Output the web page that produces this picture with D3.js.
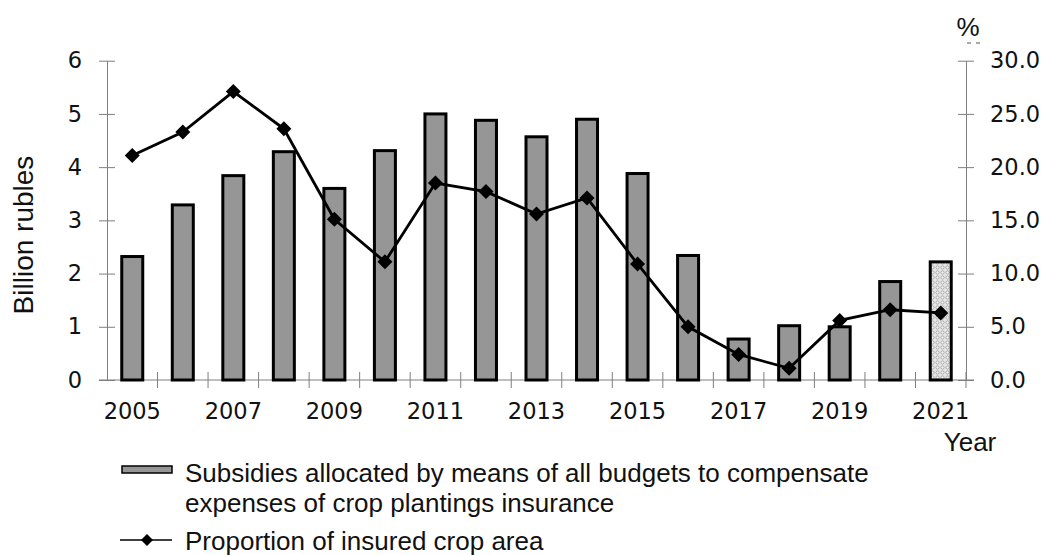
<!DOCTYPE html>
<html>
<head>
<meta charset="utf-8">
<script src="https://cdn.jsdelivr.net/npm/d3@7"></script>
<style>
  body { margin: 0; background: #fff; }
  svg text { font-family: "Liberation Sans", Arial, sans-serif; fill: #111; }
  svg .num { font-family: "DejaVu Sans", sans-serif; }
</style>
</head>
<body>
<div id="chart"></div>
<script>
const years = ["2005","2006","2007","2008","2009","2010","2011","2012","2013","2014","2015","2016","2017","2018","2019","2020","2021"];
const subsidies = [2.32, 3.29, 3.84, 4.29, 3.60, 4.31, 5.00, 4.88, 4.57, 4.90, 3.88, 2.34, 0.77, 1.02, 1.00, 1.85, 2.22];
const insuredShare = [21.1, 23.3, 27.1, 23.6, 15.1, 11.1, 18.5, 17.7, 15.6, 17.1, 10.9, 5.0, 2.4, 1.1, 5.6, 6.6, 6.3];
const leftTicks = [0, 1, 2, 3, 4, 5, 6];
const rightTicks = [0, 5, 10, 15, 20, 25, 30];
const labelledYears = ["2005","2007","2009","2011","2013","2015","2017","2019","2021"];
const legendLabels = [
    ["Subsidies allocated by means of all budgets to compensate", "expenses of crop plantings insurance"],
    ["Proportion of insured crop area"]
];

const width = 1047;
const height = 555;
const margin = { top: 60.7, right: 81, bottom: 175, left: 107 };
const axisColor = "#7f7f7f";
const barFill = "#969696";

const svg = d3.select("#chart").append("svg")
    .attr("width", width)
    .attr("height", height);

const defs = svg.append("defs");
const pat = defs.append("pattern")
    .attr("id", "dots")
    .attr("patternUnits", "userSpaceOnUse")
    .attr("width", 5)
    .attr("height", 5);
pat.append("rect").attr("width", 5).attr("height", 5).attr("fill", "#e6e6e6");
pat.append("circle").attr("cx", 2.5).attr("cy", 2.5).attr("r", 1.6)
    .attr("fill", "#f4f4f4").attr("stroke", "#9a9a9a").attr("stroke-width", 0.8);

const x = d3.scaleBand()
    .domain(years)
    .range([margin.left, width - margin.right]);

const yLeft = d3.scaleLinear()
    .domain([0, 6])
    .range([height - margin.bottom, margin.top]);

const yRight = d3.scaleLinear()
    .domain([0, 30])
    .range([height - margin.bottom, margin.top]);

const y0 = yLeft(0);

// axes
const left = svg.append("g")
    .attr("transform", `translate(${margin.left},0)`)
    .call(d3.axisLeft(yLeft).tickValues(leftTicks).tickSize(0).tickPadding(25).tickFormat(d3.format("d")));
left.select(".domain").attr("stroke", axisColor);
left.selectAll(".tick line").attr("x1", -8).attr("x2", 8).attr("stroke", axisColor);
left.selectAll("text").attr("class", "num").style("font-size", "22.5px").attr("fill", "#111");

const right = svg.append("g")
    .attr("transform", `translate(${width - margin.right},0)`)
    .call(d3.axisRight(yRight).tickValues(rightTicks).tickSize(0).tickPadding(24).tickFormat(d3.format(".1f")));
right.select(".domain").attr("stroke", axisColor);
right.selectAll(".tick line").attr("x1", -8).attr("x2", 8).attr("stroke", axisColor);
right.selectAll("text").attr("class", "num").style("font-size", "22.5px").attr("fill", "#111");

// x axis: ticks at category boundaries
svg.append("line")
    .attr("x1", margin.left - 8).attr("x2", width - margin.right + 8)
    .attr("y1", y0).attr("y2", y0)
    .attr("stroke", axisColor);
svg.append("g")
    .selectAll("line")
    .data(years)
    .enter()
    .append("line")
    .attr("x1", d => x(d) + x.bandwidth())
    .attr("x2", d => x(d) + x.bandwidth())
    .attr("y1", y0 - 8).attr("y2", y0 + 8)
    .attr("stroke", axisColor);

svg.append("g")
    .selectAll("text")
    .data(labelledYears)
    .enter()
    .append("text")
    .attr("class", "num")
    .attr("x", d => x(d) + x.bandwidth() / 2)
    .attr("y", y0 + 39)
    .attr("text-anchor", "middle")
    .style("font-size", "22.5px")
    .text(d => d);

// bars
const barW = 21;
svg.append("g")
    .selectAll("rect")
    .data(years)
    .enter()
    .append("rect")
    .attr("x", d => x(d) + x.bandwidth() / 2 - barW / 2)
    .attr("y", (d, i) => yLeft(subsidies[i]))
    .attr("width", barW)
    .attr("height", (d, i) => y0 - yLeft(subsidies[i]))
    .attr("fill", d => d === "2021" ? "url(#dots)" : barFill)
    .attr("stroke", "#000")
    .attr("stroke-width", 3);

// line
const line = d3.line()
    .x((d, i) => x(years[i]) + x.bandwidth() / 2)
    .y(d => yRight(d));

svg.append("path")
    .datum(insuredShare)
    .attr("d", line)
    .attr("fill", "none")
    .attr("stroke", "#000")
    .attr("stroke-width", 2.8);

const diamond = s => `M0,${-s}L${s},0L0,${s}L${-s},0Z`;
svg.append("g")
    .selectAll("path")
    .data(insuredShare)
    .enter()
    .append("path")
    .attr("transform", (d, i) => `translate(${x(years[i]) + x.bandwidth() / 2},${yRight(d)})`)
    .attr("d", diamond(7.5))
    .attr("fill", "#000");

// axis titles
svg.append("text")
    .attr("transform", `translate(33,235) rotate(-90)`)
    .attr("text-anchor", "middle")
    .style("font-size", "28px")
    .text("Billion rubles");

svg.append("text")
    .attr("x", 968)
    .attr("y", 36)
    .attr("text-anchor", "middle")
    .style("font-size", "26px")
    .text("%");
svg.append("line")
    .attr("x1", 967).attr("x2", 984)
    .attr("y1", 43).attr("y2", 43)
    .attr("stroke", "#555")
    .attr("stroke-dasharray", "4,5");

svg.append("text")
    .attr("x", 970)
    .attr("y", 451)
    .attr("text-anchor", "middle")
    .style("font-size", "26px")
    .text("Year");

// legend
const lg = svg.append("g");
lg.append("rect")
    .attr("x", 122).attr("y", 466)
    .attr("width", 50).attr("height", 7)
    .attr("fill", barFill)
    .attr("stroke", "#000")
    .attr("stroke-width", 1.5);
lg.append("text")
    .attr("x", 185).attr("y", 482)
    .style("font-size", "26px")
    .selectAll("tspan")
    .data(legendLabels[0])
    .enter()
    .append("tspan")
    .attr("x", 185)
    .attr("dy", (d, i) => i === 0 ? 0 : 30)
    .text(d => d);

lg.append("line")
    .attr("x1", 120).attr("x2", 172)
    .attr("y1", 540).attr("y2", 540)
    .attr("stroke", "#000").attr("stroke-width", 1.5);
lg.append("path")
    .attr("transform", "translate(147,540)")
    .attr("d", diamond(6))
    .attr("fill", "#000");
lg.append("text")
    .attr("x", 185).attr("y", 550)
    .style("font-size", "26px")
    .text(legendLabels[1][0]);
</script>
</body>
</html>
